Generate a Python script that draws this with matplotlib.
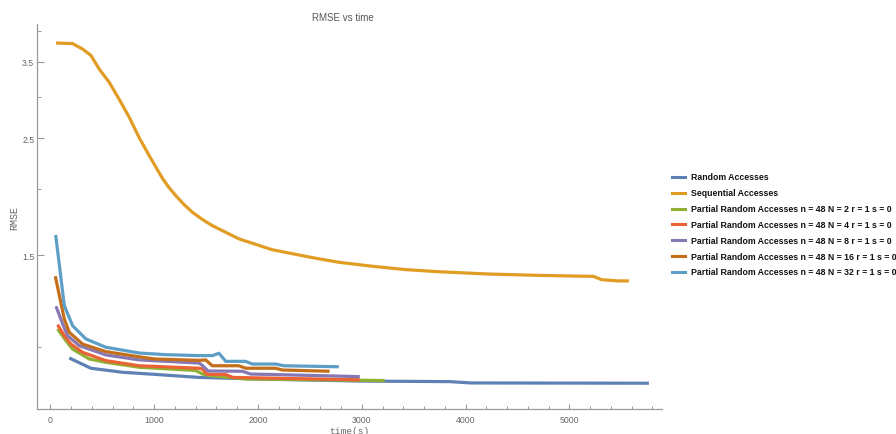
import matplotlib
matplotlib.use("Agg")
import matplotlib.pyplot as plt
from matplotlib.lines import Line2D
from matplotlib.ticker import FixedLocator, NullFormatter, FixedFormatter

# ---------------- data ----------------
series_names = [
    "Random Accesses",
    "Sequential Accesses",
    "Partial Random Accesses n = 48 N = 2 r = 1 s = 0",
    "Partial Random Accesses n = 48 N = 4 r = 1 s = 0",
    "Partial Random Accesses n = 48 N = 8 r = 1 s = 0",
    "Partial Random Accesses n = 48 N = 16 r = 1 s = 0",
    "Partial Random Accesses n = 48 N = 32 r = 1 s = 0",
]

t_rand = [183, 391, 695, 1000, 1433, 2000, 3000, 3850, 4050, 5766]
v_rand = [0.955, 0.913, 0.897, 0.889, 0.877, 0.871, 0.863, 0.861, 0.856, 0.855]

t_seq = [55, 215, 311, 391, 471, 567, 663, 760, 856, 952, 1020, 1080, 1140, 1209, 1290, 1368,
         1461, 1561, 1817, 2138, 2555, 2779, 3099, 3420, 3740, 4221, 4702, 5022,
         5231, 5311, 5471, 5574]
v_seq = [3.80, 3.79, 3.70, 3.60, 3.39, 3.20, 2.97, 2.745, 2.51, 2.32, 2.20, 2.10, 2.02,
         1.946, 1.87, 1.81, 1.755, 1.706, 1.61, 1.535, 1.479, 1.453, 1.428, 1.407, 1.394,
         1.380, 1.372, 1.368, 1.366, 1.346, 1.339, 1.339]

t_n2 = [70, 151, 215, 375, 535, 856, 1400, 1469, 1533, 1885, 3221]
v_n2 = [1.085, 1.030, 0.993, 0.951, 0.937, 0.917, 0.904, 0.890, 0.884, 0.871, 0.865]

t_n4 = [70, 135, 199, 311, 535, 856, 1433, 1465, 1510, 1690, 1760, 2981]
v_n4 = [1.105, 1.053, 1.015, 0.979, 0.944, 0.923, 0.913, 0.910, 0.889, 0.888, 0.877, 0.868]

t_n8 = [55, 119, 167, 279, 535, 856, 1433, 1460, 1520, 1850, 1930, 2170, 2981]
v_n8 = [1.198, 1.109, 1.053, 1.008, 0.968, 0.947, 0.934, 0.926, 0.902, 0.901, 0.890, 0.888, 0.880]

t_n16 = [48, 135, 183, 311, 535, 856, 1000, 1433, 1497, 1561, 1817, 1882, 2170, 2234, 2690]
v_n16 = [1.367, 1.133, 1.069, 1.015, 0.982, 0.960, 0.951, 0.945, 0.947, 0.923, 0.923,
         0.913, 0.913, 0.906, 0.901]

t_n32 = [52, 135, 215, 343, 535, 856, 1112, 1433, 1561, 1625, 1690, 1882, 1946, 2170, 2250, 2779]
v_n32 = [1.638, 1.201, 1.100, 1.038, 1.001, 0.976, 0.969, 0.965, 0.965, 0.975, 0.941,
         0.941, 0.930, 0.930, 0.923, 0.919]

x_major_ticks = [0, 1000, 2000, 3000, 4000, 5000]
y_major_ticks = [1.5, 2.5, 3.5]
y_major_labels = ["1.5", "2.5", "3.5"]
y_minor_ticks = [1.0, 2.0, 3.0, 4.0]

colors = ["#5E81B5", "#E19C24", "#8FB032", "#EB6235", "#8778B3", "#C56E1A", "#5D9EC7"]

# ---------------- figure ----------------
W, H = 896, 435
fig = plt.figure(figsize=(W / 100, H / 100), dpi=100)
ax = fig.add_axes([37 / W, 1 - 410 / H, (662 - 37) / W, (410 - 25) / H])

all_t = [t_rand, t_seq, t_n2, t_n4, t_n8, t_n16, t_n32]
all_v = [v_rand, v_seq, v_n2, v_n4, v_n8, v_n16, v_n32]
for t, v, c in zip(all_t, all_v, colors):
    ax.plot(t, v, color=c, lw=2.3, solid_joinstyle="round", solid_capstyle="butt")

ax.set_yscale("log")
ax.set_xlim(-128, 5892)
ax.set_ylim(0.7636, 4.13)

axis_col = "#9a9a9a"
label_col = "#666666"
for s in ["top", "right"]:
    ax.spines[s].set_visible(False)
for s in ["left", "bottom"]:
    ax.spines[s].set_color(axis_col)
    ax.spines[s].set_linewidth(0.9)

ax.xaxis.set_major_locator(FixedLocator(x_major_ticks))
ax.xaxis.set_minor_locator(FixedLocator([m for m in range(200, 5801, 200) if m % 1000 != 0]))
ax.yaxis.set_major_locator(FixedLocator(y_major_ticks))
ax.yaxis.set_major_formatter(FixedFormatter(y_major_labels))
ax.yaxis.set_minor_locator(FixedLocator(y_minor_ticks))
ax.yaxis.set_minor_formatter(NullFormatter())

font = "Liberation Sans"
ax.tick_params(axis="x", which="major", direction="in", length=3.5, width=0.8,
               color=axis_col, labelcolor=label_col, labelsize=6.3, pad=4)
ax.tick_params(axis="x", which="minor", direction="in", length=2, width=0.7, color=axis_col)
ax.tick_params(axis="y", which="major", direction="in", length=5, width=0.8,
               color=axis_col, labelcolor=label_col, labelsize=6.3, pad=2)
ax.tick_params(axis="y", which="minor", direction="in", length=3, width=0.7, color=axis_col)
for lab in ax.get_xticklabels() + ax.get_yticklabels():
    lab.set_fontfamily(font)

# title and axis labels
fig.text(343 / W, 1 - 18 / H, "RMSE vs time", ha="center", va="center",
         fontsize=7, color="#555555", family=font)
fig.text(349 / W, 1 - 432 / H, "time(s)", ha="center", va="center",
         fontsize=6.8, color=label_col, family="Liberation Mono")
fig.text(14 / W, 1 - 218 / H, "RMSE", ha="center", va="center", rotation=90,
         fontsize=7.2, color=label_col, family="Liberation Mono")

# legend (manual)
for i, (name, c) in enumerate(zip(series_names, colors)):
    yy = 1 - (178 + i * 15.8) / H
    fig.add_artist(Line2D([672 / W, 685 / W], [yy, yy], color=c, lw=2.2,
                          transform=fig.transFigure))
    fig.text(691 / W, yy, name, ha="left", va="center", fontsize=6.3,
             fontweight="bold", color="#111111", family=font)

fig.savefig("out.png", dpi=100)
